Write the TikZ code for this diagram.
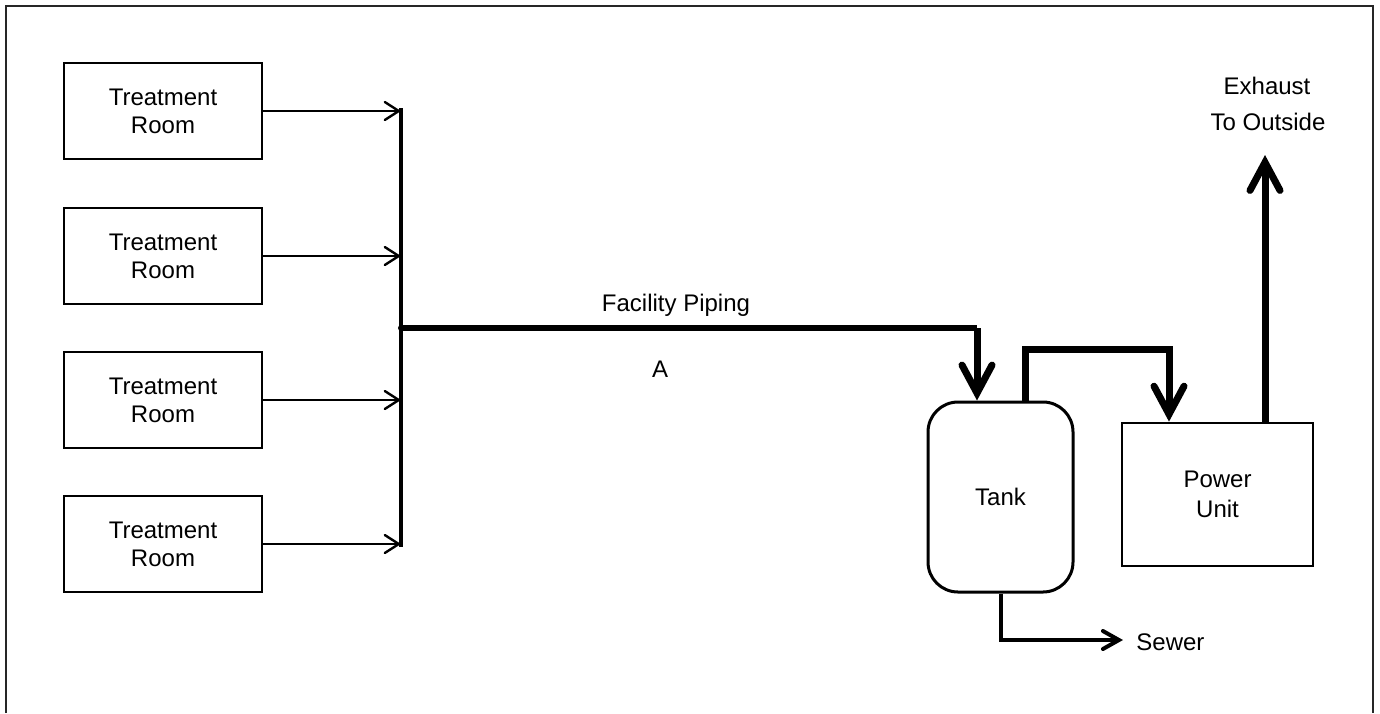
\documentclass[tikz,border=0pt]{standalone}
\usepackage{fontspec}
\setmainfont{Liberation Sans}
\usetikzlibrary{arrows.meta}
\begin{document}
\begin{tikzpicture}[x=0.5pt,y=-0.5pt,
  lbl/.style={font=\fontsize{12}{14}\selectfont,inner sep=0pt,align=center},
  room/.style={lbl,draw,line width=1.4pt,minimum width=99pt,minimum height=48pt},
  thinarrow/.style={line width=1.2pt,-{Straight Barb[length=7pt,width=9pt,line cap=round]}},
  bus/.style={line width=2.2pt},
  pipe/.style={line width=2.7pt},
  fatarrow/.style={line width=3.5pt,-{Straight Barb[length=14pt,width=15pt,line cap=round]}},
  sewerarrow/.style={line width=2pt,-{Straight Barb[length=8pt,width=9pt,line cap=round]}}
]
\useasboundingbox (0,0) rectangle (1380,713);
\draw[line width=0.8pt,draw=black!85] (6,713) -- (6,6) -- (1373,6) -- (1373,713);

% treatment rooms
\node[room] (r1) at (163,111) {Treatment\\Room};
\node[room] (r2) at (163,256) {Treatment\\Room};
\node[room] (r3) at (163,400) {Treatment\\Room};
\node[room] (r4) at (163,544) {Treatment\\Room};

% bus
\coordinate (btop) at (401,108);
\coordinate (bbot) at (401,547);
\draw[bus] (btop) -- (bbot);
\foreach \i in {1,...,4}{
  \draw[thinarrow] (r\i.east) -- (r\i.east -| btop);
}

% tank and power unit
\node[lbl,draw,line width=1.5pt,rounded corners=15pt,minimum width=72.5pt,minimum height=95pt] (tank) at (1000.5,497) {Tank};
\node[room,minimum width=95.5pt,minimum height=71.5pt] (pu) at (1217.5,494.5) {Power\\[1pt]Unit};

% facility piping
\coordinate (j) at (401,328);
\coordinate (jc) at (977,328);
\draw[pipe] (j) -- (jc);
\fill (j) circle (3);
\draw[fatarrow] (jc) -- (jc |- tank.north);
\node[lbl] (fp) at (676,305) {Facility Piping};
\node[lbl] (a) at (660,369) {A};

% tank to power unit
\coordinate (t1) at (1025,349);
\coordinate (t2) at (1169,349);
\draw[fatarrow] (tank.north -| t1) -- (t1) -- (t2) -- (pu.north -| t2);

% exhaust
\coordinate (ex) at (1265,155);
\draw[fatarrow] (pu.north -| ex) -- (ex);
\node[lbl] (exh) at (1267,86) {Exhaust};
\node[lbl] (out) at (1268,122) {To Outside};

% sewer
\coordinate (s1) at (1001,640);
\coordinate (s2) at (1123,640);
\draw[sewerarrow] (tank.south -| s1) -- (s1) -- (s2);
\node[lbl,anchor=west] (sewer) at (1136,642) {Sewer};
\end{tikzpicture}
\end{document}
